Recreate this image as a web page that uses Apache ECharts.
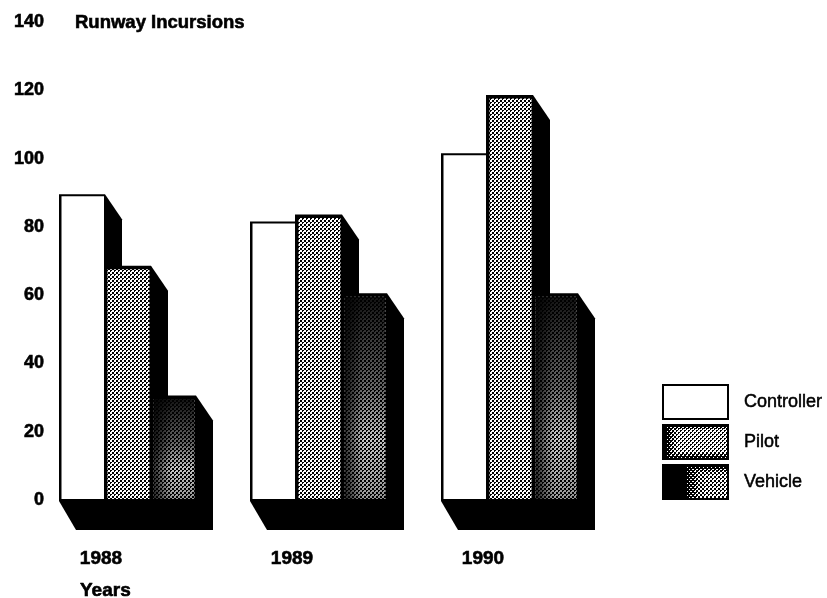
<!DOCTYPE html>
<html><head><meta charset="utf-8">
<style>html,body{margin:0;padding:0;background:#fff}#main{width:827px;height:598px;filter:blur(0.6px)}</style>
<script src="https://cdn.jsdelivr.net/npm/echarts@6/dist/echarts.min.js"></script>
</head><body><div id="main"></div>
<script>
const categories = ['1988', '1989', '1990'];
const seriesNames = ['Controller', 'Pilot', 'Vehicle'];
const controller = [89, 81, 101];
const pilot = [68, 83, 118];
const vehicle = [30, 60, 60];
const yTicks = [0, 20, 40, 60, 80, 100, 120, 140];

const ORDER = [[0,2,8,10],[4,6,12,14],[9,11,1,3],[13,15,5,7]];
function dither(w, h, level) {
  const c = document.createElement('canvas'); c.width = w; c.height = h;
  const g = c.getContext('2d');
  g.fillStyle = '#fff'; g.fillRect(0, 0, w, h);
  g.fillStyle = '#000';
  for (let y = 0; y < h; y++) for (let x = 0; x < w; x++) {
    if (level(x, y) > (ORDER[y % 4][x % 4] + 0.5) / 16) g.fillRect(x, y, 1, 1);
  }
  return c;
}
const pilotTile = dither(4, 4, () => 0.45);
const vehicleTile = dither(4, 4, () => 0.45);
function swatch(level) {
  const w = 67, h = 36;
  const c = dither(w, h, level);
  const g = c.getContext('2d');
  g.strokeStyle = '#000'; g.lineWidth = 2; g.strokeRect(1, 1, w - 2, h - 2);
  return 'image://' + c.toDataURL();
}
const legendIcons = [
  swatch(() => 0),
  swatch((x, y) => Math.min(1, Math.max(0.36, 1.1 - x / 22, (y - 22) / 13, (7 - y) / 5))),
  swatch((x, y) => Math.min(1, Math.max(0.44, 1.7 - x / 32, (12 - y) / 10, (y - 30) / 6)))
];

function renderBar(s) {
  return function (params, api) {
    const cat = api.value(0);
    const top = api.coord([cat, api.value(1)]);
    const base = api.coord([cat, 0]);
    const band = api.size([1, 0])[0];
    const barW = band * 0.2375;
    const x0 = Math.round(top[0] - band / 2 + s * barW);
    const x1 = Math.round(top[0] - band / 2 + (s + 1) * barW);
    const yt = top[1], y0 = base[1];
    const dx = Math.round(barW * 0.38);
    const children = [{
      type: 'polygon',
      shape: { points: [[x0 - 1, yt - 2], [x1, yt - 2], [x1 + dx, yt + 23], [x1 + dx, y0 + 30], [x0 + dx - 1, y0 + 30], [x0 - 1, y0 + 1]] },
      style: { fill: '#000' }
    }];
    const front = s === 0
      ? { x: x0 + 1.5, y: yt, width: x1 - x0 - 2.5, height: y0 - yt - 1 }
      : { x: x0 + 2.5, y: yt + 1.5, width: x1 - x0 - 4, height: y0 - yt - 2.5 };
    if (s === 0) {
      children.push({ type: 'rect', shape: front, style: { fill: '#fff' } });
    } else {
      children.push({ type: 'rect', shape: front, style: { fill: { image: s === 1 ? pilotTile : vehicleTile, repeat: 'repeat' } } });
      if (s === 2) {
        children.push({ type: 'rect', shape: front, style: { fill: {
          type: 'linear', x: 0, y: 0, x2: 0, y2: 1,
          colorStops: [{ offset: 0, color: 'rgba(0,0,0,0.92)' }, { offset: 0.45, color: 'rgba(0,0,0,0.55)' }, { offset: 0.7, color: 'rgba(0,0,0,0.15)' }, { offset: 1, color: 'rgba(0,0,0,0.35)' }]
        } } });
        children.push({ type: 'rect', shape: front, style: { fill: {
          type: 'linear', x: 0, y: 0, x2: 1, y2: 0,
          colorStops: [{ offset: 0, color: 'rgba(0,0,0,0.8)' }, { offset: 0.45, color: 'rgba(0,0,0,0.08)' }, { offset: 1, color: 'rgba(0,0,0,0.12)' }]
        } } });
      }
    }
    return { type: 'group', children };
  };
}

const valuesBySeries = [controller, pilot, vehicle];
const font = 'Liberation Sans';
const heavy = { fontFamily: font, fontWeight: 'bold', color: '#000', textBorderColor: '#000', textBorderWidth: 0.6 };
const chart = echarts.init(document.getElementById('main'), null, { renderer: 'canvas' });
chart.setOption({
  animation: false,
  backgroundColor: '#fff',
  title: [
    { text: 'Runway Incursions', left: 75, top: 13, padding: 0, textStyle: { ...heavy, fontSize: 18.5 } },
    { text: 'Years', left: 80, top: 581, padding: 0, textStyle: { ...heavy, fontSize: 19 } }
  ],
  grid: { left: 60, width: 573, top: 22, height: 478 },
  xAxis: {
    type: 'category', data: categories, position: 'bottom',
    axisLine: { show: false }, axisTick: { show: false }, splitLine: { show: false },
    axisLabel: { ...heavy, margin: 49, padding: [0, 109, 0, 0], fontSize: 19 }
  },
  yAxis: {
    type: 'value', min: yTicks[0], max: yTicks[yTicks.length - 1], interval: yTicks[1] - yTicks[0],
    axisLine: { show: false }, axisTick: { show: false }, splitLine: { show: false },
    axisLabel: { ...heavy, margin: 16, fontSize: 18 }
  },
  legend: {
    orient: 'vertical', left: 662, top: 384, padding: 0, itemWidth: 67, itemHeight: 36, itemGap: 4,
    selectedMode: false,
    textStyle: { fontFamily: font, fontSize: 18, color: '#000', textBorderColor: '#000', textBorderWidth: 0.5, padding: [0, 0, 0, 10] },
    data: seriesNames.map((name, i) => ({ name, icon: legendIcons[i] }))
  },
  series: seriesNames.map((name, s) => ({
    name, type: 'custom', coordinateSystem: 'cartesian2d',
    encode: { x: 0, y: 1 },
    itemStyle: { color: ['#fff', '#888', '#333'][s] },
    data: valuesBySeries[s].map((v, i) => [i, v]),
    renderItem: renderBar(s)
  }))
});
</script></body></html>
